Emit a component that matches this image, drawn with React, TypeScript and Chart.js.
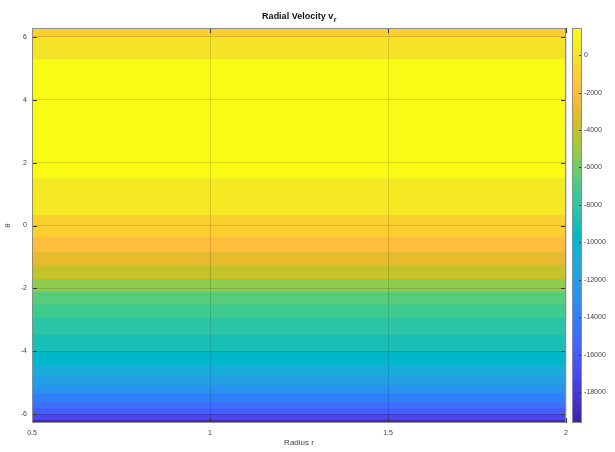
import React, { useEffect, useRef } from "react";
import { Chart, registerables } from "chart.js";

Chart.register(...registerables);

// ---- data ----
const xTicks = [0.5, 1, 1.5, 2];
const yTicks = [-6, -4, -2, 0, 2, 4, 6];
const cbTicks = [0, -2000, -4000, -6000, -8000, -10000, -12000, -14000, -16000, -18000];

const R_MIN = 0.5;
const R_MAX = 2;
const THETA_MIN = -2 * Math.PI;
const THETA_MAX = 2 * Math.PI;
const C_MIN = -19650;
const C_MAX = 1450;

// band edges in theta (top to bottom) and v_r value of each band
const thetaEdges = [
  6.283, 6.007, 5.288, 1.502, 0.334, -0.356, -0.834, -1.257, -1.702, -2.106, -2.507,
  -2.943, -3.484, -4.015, -4.438, -4.757, -5.075, -5.339, -5.606, -5.816, -5.997, -6.188, -6.283,
];
const vrValues = [
  -1030, -40, 1280, 290, -1030, -2020, -3000, -3990, -5310, -6620, -7280,
  -8270, -8930, -9920, -10900, -11890, -12880, -13870, -14850, -15840, -17160, -19130,
];

// parula colormap (64)
const PARULA: number[][] = [
  [0.2422, 0.1504, 0.6603], [0.2504, 0.165, 0.7076], [0.2578, 0.1818, 0.7511], [0.2647, 0.1978, 0.7952],
  [0.2706, 0.2147, 0.8364], [0.2751, 0.2342, 0.871], [0.2783, 0.2559, 0.8991], [0.2803, 0.2782, 0.9221],
  [0.2813, 0.3006, 0.9414], [0.281, 0.3228, 0.9579], [0.2795, 0.3447, 0.9717], [0.276, 0.3667, 0.9829],
  [0.2699, 0.3892, 0.9906], [0.2602, 0.4123, 0.9952], [0.244, 0.4358, 0.9988], [0.2206, 0.4603, 0.9973],
  [0.1963, 0.4847, 0.9892], [0.1834, 0.5074, 0.9798], [0.1786, 0.5289, 0.9682], [0.1764, 0.5499, 0.952],
  [0.1687, 0.5703, 0.9359], [0.154, 0.5902, 0.9218], [0.146, 0.6091, 0.9079], [0.138, 0.6276, 0.8973],
  [0.1248, 0.6459, 0.8883], [0.1113, 0.6635, 0.8763], [0.0952, 0.6798, 0.8598], [0.0689, 0.6948, 0.8394],
  [0.0297, 0.7082, 0.8163], [0.0036, 0.7203, 0.7917], [0.0067, 0.7312, 0.766], [0.0433, 0.7411, 0.7394],
  [0.0964, 0.75, 0.712], [0.1408, 0.7584, 0.6842], [0.1717, 0.767, 0.6554], [0.1938, 0.7758, 0.6251],
  [0.2161, 0.7843, 0.5923], [0.247, 0.7918, 0.5567], [0.2906, 0.7973, 0.5188], [0.3406, 0.8008, 0.4789],
  [0.3909, 0.8029, 0.4354], [0.4456, 0.8024, 0.3909], [0.5044, 0.7993, 0.348], [0.5616, 0.7942, 0.3045],
  [0.6174, 0.7876, 0.2612], [0.672, 0.7793, 0.2227], [0.7242, 0.7698, 0.191], [0.7738, 0.7598, 0.1646],
  [0.8203, 0.7498, 0.1535], [0.8634, 0.7406, 0.1596], [0.9035, 0.733, 0.1774], [0.9393, 0.7288, 0.21],
  [0.9728, 0.7298, 0.2394], [0.9956, 0.7434, 0.2371], [0.997, 0.7659, 0.2199], [0.9952, 0.7893, 0.2028],
  [0.9892, 0.8136, 0.1885], [0.9786, 0.8386, 0.1766], [0.9676, 0.8639, 0.1643], [0.961, 0.889, 0.1537],
  [0.9597, 0.9135, 0.1423], [0.9628, 0.9373, 0.1265], [0.9691, 0.9606, 0.1064], [0.9769, 0.9839, 0.0805],
];

const FONT = "'Liberation Sans Narrow', 'Liberation Sans', Arial, sans-serif";
const TEXT = "#404040";

function rgb(c: number[]) {
  return `rgb(${Math.round(c[0] * 255)},${Math.round(c[1] * 255)},${Math.round(c[2] * 255)})`;
}
function colorFor(v: number) {
  const n = PARULA.length;
  let i = Math.floor(((v - C_MIN) / (C_MAX - C_MIN)) * n);
  if (i < 0) i = 0;
  if (i > n - 1) i = n - 1;
  return rgb(PARULA[i]);
}

const framePlugin = {
  id: "frame",
  afterDraw(chart: any) {
    const { ctx, chartArea: a, scales } = chart;
    ctx.save();
    ctx.lineWidth = 1;
    ctx.strokeStyle = "#333333";
    ctx.beginPath();
    for (const v of xTicks) {
      const px = Math.round(scales.x.getPixelForValue(v)) + 0.5;
      ctx.moveTo(px, a.bottom);
      ctx.lineTo(px, a.bottom - 5);
      ctx.moveTo(px, a.top);
      ctx.lineTo(px, a.top + 5);
    }
    for (const v of yTicks) {
      const py = Math.round(scales.y.getPixelForValue(v)) + 0.5;
      ctx.moveTo(a.left, py);
      ctx.lineTo(a.left + 5, py);
      ctx.moveTo(a.right, py);
      ctx.lineTo(a.right - 5, py);
    }
    ctx.stroke();
    ctx.strokeStyle = "#8c8c8c";
    ctx.strokeRect(a.left + 0.5, a.top + 0.5, a.right - a.left - 1, a.bottom - a.top - 1);

    // title with subscript
    const cx = (a.left + a.right) / 2;
    const main = "Radial Velocity v";
    const sub = "r";
    ctx.fillStyle = "#111111";
    ctx.textBaseline = "alphabetic";
    ctx.textAlign = "left";
    ctx.font = `bold 9px ${FONT}`;
    const w1 = ctx.measureText(main).width;
    ctx.font = `bold 7px ${FONT}`;
    const w2 = ctx.measureText(sub).width;
    const x0 = cx - (w1 + w2) / 2;
    ctx.font = `bold 9px ${FONT}`;
    ctx.fillText(main, x0, 19);
    ctx.font = `bold 7px ${FONT}`;
    ctx.fillText(sub, x0 + w1 + 0.5, 21.5);
    ctx.restore();
  },
};

const cbFramePlugin = {
  id: "cbframe",
  afterDraw(chart: any) {
    const { ctx, chartArea: a, scales } = chart;
    ctx.save();
    ctx.lineWidth = 1;
    ctx.strokeStyle = "#333333";
    ctx.beginPath();
    for (const v of cbTicks) {
      const py = Math.round(scales.y.getPixelForValue(v)) + 0.5;
      ctx.moveTo(a.right, py);
      ctx.lineTo(a.right - 3, py);
    }
    ctx.stroke();
    ctx.strokeStyle = "#8c8c8c";
    ctx.strokeRect(a.left + 0.5, a.top + 0.5, a.right - a.left - 1, a.bottom - a.top - 1);
    ctx.restore();
  },
};

export default function App() {
  const mainRef = useRef<HTMLCanvasElement>(null);
  const cbRef = useRef<HTMLCanvasElement>(null);

  useEffect(() => {
    if (!mainRef.current || !cbRef.current) return;

    const bandDatasets = vrValues.map((v, i) => ({
      data: [
        { x: R_MIN, y: thetaEdges[i + 1] },
        { x: R_MAX, y: thetaEdges[i + 1] },
      ],
      fill: "end",
      backgroundColor: colorFor(v),
      borderColor: "rgba(0,0,0,0)",
      borderWidth: 0,
      pointRadius: 0,
    }));

    const gridOpts = { color: "rgba(0,0,0,0.13)", drawTicks: false, lineWidth: 1, z: 1 };

    const main = new Chart(mainRef.current, {
      type: "line",
      data: { datasets: bandDatasets as any },
      options: {
        responsive: false,
        animation: false,
        devicePixelRatio: 1,
        events: [],
        layout: { padding: { top: 28, right: 49, left: 0, bottom: 0 } },
        plugins: { legend: { display: false }, tooltip: { enabled: false }, title: { display: false } },
        scales: {
          x: {
            type: "linear",
            min: R_MIN,
            max: R_MAX,
            afterBuildTicks: (s: any) => {
              s.ticks = xTicks.map((v) => ({ value: v }));
            },
            afterFit: (s: any) => {
              s.height = 29;
            },
            grid: gridOpts,
            border: { display: false },
            ticks: {
              padding: 6,
              color: TEXT,
              autoSkip: false,
              maxRotation: 0,
              font: { family: FONT, size: 7 },
              callback: (v: any) => String(v),
            },
            title: {
              display: true,
              text: "Radius r",
              color: TEXT,
              font: { family: FONT, size: 8 },
              padding: { top: 0, bottom: 4 },
            },
          },
          y: {
            type: "linear",
            min: THETA_MIN,
            max: THETA_MAX,
            afterBuildTicks: (s: any) => {
              s.ticks = yTicks.map((v) => ({ value: v }));
            },
            afterFit: (s: any) => {
              s.width = 32;
            },
            grid: gridOpts,
            border: { display: false },
            ticks: {
              padding: 5,
              color: TEXT,
              autoSkip: false,
              font: { family: FONT, size: 7 },
              callback: (v: any) => String(v),
            },
            title: {
              display: true,
              text: "θ",
              color: TEXT,
              font: { family: FONT, size: 8 },
              padding: { top: 3, bottom: 0 },
            },
          },
        },
      } as any,
      plugins: [framePlugin],
    });

    const nLevels = PARULA.length;
    const step = (C_MAX - C_MIN) / nLevels;
    const cbDatasets = PARULA.map((_, k) => {
      const level = nLevels - 1 - k;
      const lo = C_MIN + level * step;
      return {
        data: [
          { x: 0, y: lo },
          { x: 1, y: lo },
        ],
        fill: "end",
        backgroundColor: rgb(PARULA[level]),
        borderColor: "rgba(0,0,0,0)",
        borderWidth: 0,
        pointRadius: 0,
      };
    });

    const cb = new Chart(cbRef.current, {
      type: "line",
      data: { datasets: cbDatasets as any },
      options: {
        responsive: false,
        animation: false,
        devicePixelRatio: 1,
        events: [],
        layout: { padding: { top: 28, right: 0, left: 12, bottom: 29 } },
        plugins: { legend: { display: false }, tooltip: { enabled: false }, title: { display: false } },
        scales: {
          x: { type: "linear", min: 0, max: 1, display: false },
          y: {
            type: "linear",
            position: "right",
            min: C_MIN,
            max: C_MAX,
            afterBuildTicks: (s: any) => {
              s.ticks = cbTicks.map((v) => ({ value: v }));
            },
            afterFit: (s: any) => {
              s.width = 33;
            },
            grid: { display: false, drawTicks: false },
            border: { display: false },
            ticks: {
              padding: 2,
              color: TEXT,
              autoSkip: false,
              font: { family: FONT, size: 7 },
              callback: (v: any) => String(v),
            },
          },
        },
      } as any,
      plugins: [cbFramePlugin],
    });

    return () => {
      main.destroy();
      cb.destroy();
    };
  }, []);

  return (
    <div style={{ position: "absolute", left: 0, top: 0, width: 615, height: 452, background: "#ffffff" }}>
      <canvas ref={mainRef} width={615} height={452} style={{ position: "absolute", left: 0, top: 0 }} />
      <canvas ref={cbRef} width={55} height={452} style={{ position: "absolute", left: 560, top: 0 }} />
    </div>
  );
}
